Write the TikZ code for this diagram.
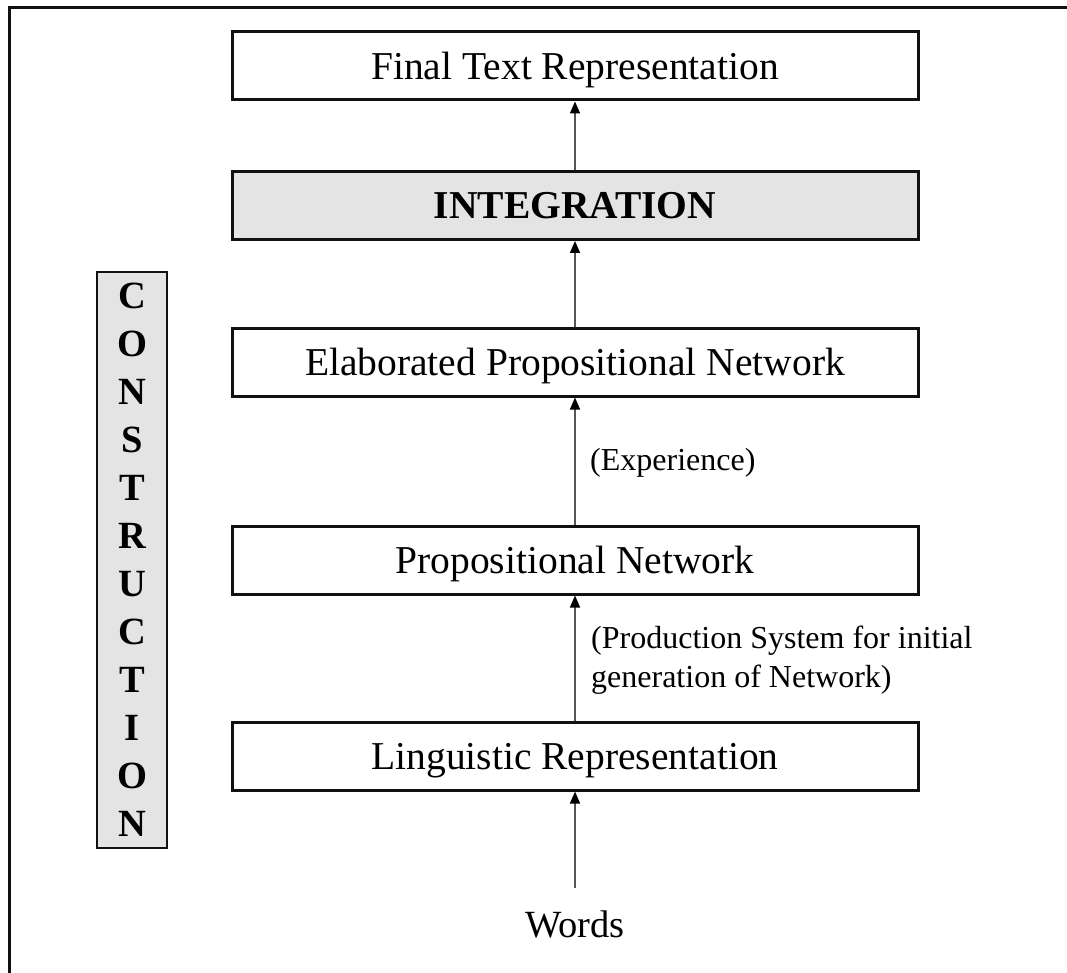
\documentclass[tikz,border=0pt]{standalone}
\usepackage{fontspec}
\setmainfont{Liberation Serif}
\usetikzlibrary{arrows.meta}
\definecolor{boxgray}{RGB}{228,228,228}
\definecolor{linegray}{RGB}{85,85,85}
\definecolor{edge}{RGB}{17,17,17}
\begin{document}
\begin{tikzpicture}[x=1pt,y=-1pt,
  stage/.style={draw=edge, line width=3pt, minimum width=686pt, minimum height=68pt,
    inner sep=0pt, text height=27pt, text depth=0pt, font=\fontsize{39.5}{46}\selectfont},
  flow/.style={draw=linegray, line width=1.5pt,
    -{Triangle[length=12pt,width=10pt,color=black]}},
  note/.style={anchor=base west, align=left, inner sep=0pt,
    font=\fontsize{32}{39}\selectfont}]
  % page and frame
  \useasboundingbox (0,0) rectangle (1067,973);
  \clip (0,0) rectangle (1067,973);
  \fill[white] (0,0) rectangle (1067,973);
  \draw[edge, line width=3pt] (9,990) -- (9,8) -- (1090,8);

  % processing stages
  \node[stage] (final) at (575,66) {Final Text Representation};
  \node[stage, fill=boxgray, font=\fontsize{39.5}{46}\selectfont\bfseries] (integ) at (575,205.5) {INTEGRATION};
  \node[stage] (elab) at (575,362) {Elaborated Propositional Network};
  \node[stage] (prop) at (575,560) {Propositional Network};
  \node[stage] (ling) at (575,756) {Linguistic Representation};
  \node[anchor=base, inner sep=0pt, font=\fontsize{38.5}{46}\selectfont] (words) at (575,937) {Words};

  % construction phase label
  \node[draw=edge, line width=2.5pt, fill=boxgray, minimum width=70pt, minimum height=576pt,
    inner sep=0pt, align=center, font=\fontsize{38.5}{48}\selectfont\bfseries] (constr) at (132,560)
    {C\\O\\N\\S\\T\\R\\U\\C\\T\\I\\O\\N};

  % connectors
  \draw[flow, shorten <=22pt] (words.north) -- (ling.south);
  \draw[flow] (ling.north) -- (prop.south);
  \draw[flow] (prop.north) -- (elab.south);
  \draw[flow] (elab.north) -- (integ.south);
  \draw[flow] (integ.north) -- (final.south);

  % connector labels
  \node[note] (lexp) at (590,470) {(Experience)};
  \node[note] (lprod) at (591,687) {(Production System for initial\\generation of Network)};
\end{tikzpicture}
\end{document}
